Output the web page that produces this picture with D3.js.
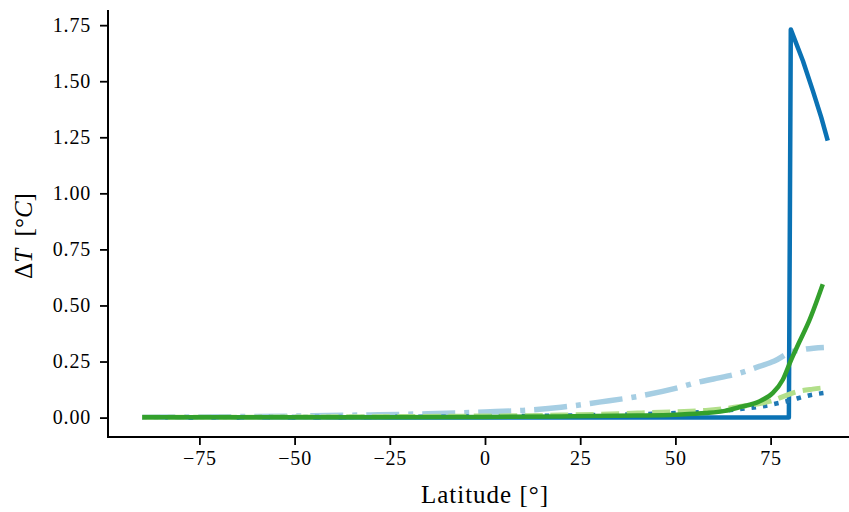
<!DOCTYPE html>
<html>
<head>
<meta charset="utf-8">
<script src="https://cdn.jsdelivr.net/npm/d3@7"></script>
<style>
  html, body { margin: 0; padding: 0; background: #fff; }
  svg { display: block; }
  text { font-family: "Liberation Serif", "Times New Roman", serif; fill: #000; }
</style>
</head>
<body>
<svg id="chart" width="849" height="512"></svg>
<script>
// ---- data ----
const xTicks = [-75, -50, -25, 0, 25, 50, 75];
const yTicks = [0, 0.25, 0.5, 0.75, 1.0, 1.25, 1.5, 1.75];

// dark blue solid: zero until ~80°N, then jump
const blueSolidLat = [-90, 79.8, 80.3, 83.5, 86.1, 88.3, 90];
const blueSolidVal = [0, 0, 1.731, 1.59, 1.457, 1.339, 1.235];

// light blue dash-dot
const lightBlueLat = [-90, -75, -60, -45, -30, -15, 0, 10, 20, 30, 40, 50, 56, 60, 67, 72, 76, 80, 84, 89];
const lightBlueVal = [0.002, 0.003, 0.005, 0.008, 0.012, 0.017, 0.025, 0.032, 0.046, 0.069, 0.094, 0.13, 0.158, 0.172, 0.199, 0.228, 0.252, 0.29, 0.305, 0.313];

// dark blue dotted
const blueDotLat = [-90, -60, -30, 0, 20, 40, 50, 60, 67, 72, 79, 86, 89];
const blueDotVal = [0.001, 0.002, 0.003, 0.005, 0.009, 0.015, 0.02, 0.027, 0.038, 0.048, 0.072, 0.102, 0.11];

// light green dashed
const lightGreenLat = [-90, -60, -30, 0, 20, 40, 50, 58, 67, 75, 82, 86, 89];
const lightGreenVal = [0.001, 0.002, 0.004, 0.007, 0.011, 0.02, 0.026, 0.032, 0.049, 0.073, 0.116, 0.127, 0.133];

// dark green solid
const greenLat = [-90, -60, -30, 0, 20, 40, 50, 58, 63, 67, 72, 75.6, 78.2, 80.4, 82.6, 85.2, 88.7];
const greenVal = [0.001, 0.001, 0.002, 0.003, 0.005, 0.009, 0.013, 0.02, 0.03, 0.047, 0.072, 0.11, 0.169, 0.258, 0.339, 0.435, 0.595];

const series = [
  { lat: blueSolidLat, val: blueSolidVal, color: "#0a72b4", width: 4.5, dash: null, curve: d3.curveLinear },
  { lat: lightBlueLat, val: lightBlueVal, color: "#a6cee3", width: 5.5, dash: "33,9,5,9", curve: d3.curveMonotoneX },
  { lat: blueDotLat, val: blueDotVal, color: "#1f78b4", width: 4.5, dash: "4.5,7", curve: d3.curveMonotoneX },
  { lat: lightGreenLat, val: lightGreenVal, color: "#b2df8a", width: 5, dash: "18,7.5", curve: d3.curveMonotoneX },
  { lat: greenLat, val: greenVal, color: "#33a02c", width: 4.5, dash: null, curve: d3.curveMonotoneX }
];

// ---- layout ----
const svg = d3.select("#chart");
const mLeft = 108, mRight = 862, mTop = 10, mBottom = 437;

const x = d3.scaleLinear().domain([-99, 99]).range([mLeft, mRight]);
const y = d3.scaleLinear().domain([-0.0866, 1.8176]).range([mBottom, mTop]);

const plot = svg.append("g");
plot.append("clipPath").attr("id", "clip")
  .append("rect").attr("x", mLeft).attr("y", 0).attr("width", 849 - mLeft).attr("height", mBottom);

const lines = plot.append("g").attr("clip-path", "url(#clip)");
series.forEach(s => {
  const pts = s.lat.map((l, i) => [l, s.val[i]]);
  const line = d3.line().x(d => x(d[0])).y(d => y(d[1])).curve(s.curve);
  lines.append("path")
    .attr("d", line(pts))
    .attr("fill", "none")
    .attr("stroke", s.color)
    .attr("stroke-width", s.width)
    .attr("stroke-linejoin", "round")
    .attr("stroke-linecap", "butt")
    .attr("stroke-dasharray", s.dash);
});

// axes
const fmtX = d => (d < 0 ? "\u2212" + Math.abs(d) : String(d));
const xAxis = d3.axisBottom(x).tickValues(xTicks).tickFormat(fmtX).tickSize(8).tickPadding(6);
const yAxis = d3.axisLeft(y).tickValues(yTicks).tickFormat(d3.format(".2f")).tickSize(8).tickPadding(9);

const gx = svg.append("g").attr("transform", `translate(0,${mBottom})`).call(xAxis);
const gy = svg.append("g").attr("transform", `translate(${mLeft},0)`).call(yAxis);

[gx, gy].forEach(g => {
  g.select(".domain").remove();
  g.selectAll(".tick line").attr("stroke", "#000").attr("stroke-width", 1.8);
  g.selectAll(".tick text")
    .style("font-family", "'Liberation Serif', serif")
    .style("font-size", "20px")
    .style("letter-spacing", "0.8px")
    .attr("fill", "#000");
});
gx.selectAll(".tick text").attr("dy", "0.71em");

// spines
svg.append("line").attr("x1", mLeft).attr("x2", mLeft).attr("y1", mTop).attr("y2", mBottom + 1)
  .attr("stroke", "#000").attr("stroke-width", 2);
svg.append("line").attr("x1", mLeft - 1).attr("x2", 849).attr("y1", mBottom).attr("y2", mBottom)
  .attr("stroke", "#000").attr("stroke-width", 2);

// axis labels
svg.append("text")
  .attr("x", 485).attr("y", 503)
  .attr("text-anchor", "middle")
  .style("font-size", "25px")
  .style("letter-spacing", "1px")
  .text("Latitude [°]");

const yl = svg.append("text")
  .attr("transform", "translate(32,236) rotate(-90)")
  .attr("text-anchor", "middle")
  .style("font-size", "25px");
yl.append("tspan").text("Δ");
yl.append("tspan").style("font-style", "italic").text("T");
yl.append("tspan").text("\u2002[°");
yl.append("tspan").style("font-style", "italic").text("C");
yl.append("tspan").text("]");
</script>
</body>
</html>
